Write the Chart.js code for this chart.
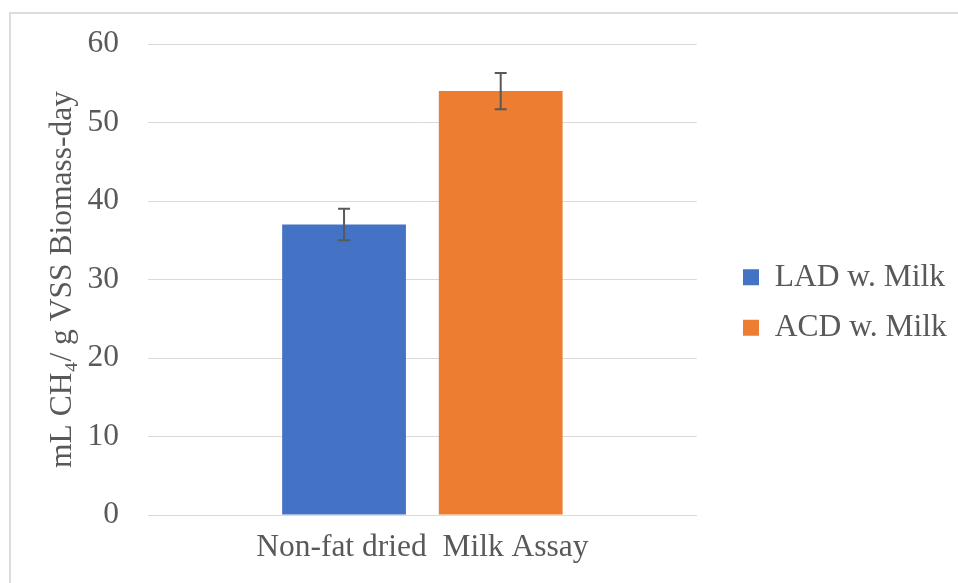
<!DOCTYPE html>
<html><head><meta charset="utf-8">
<script src="https://cdn.jsdelivr.net/npm/chart.js@4.4.0/dist/chart.umd.min.js"></script>
<style>
html,body{margin:0;padding:0;background:#fff;}
#wrap{position:relative;width:958px;height:583px;overflow:hidden;background:#fff;}
#frame{position:absolute;left:9px;top:12px;right:-10px;bottom:-10px;border-top:2px solid #dcdcdc;border-left:2px solid #dcdcdc;}
canvas{position:absolute;left:0;top:0;}
</style></head><body>
<div id="wrap"><div id="frame"></div><canvas id="c" width="958" height="583"></canvas></div>
<script>
const categories = ['Non-fat dried  Milk Assay'];
const seriesNames = ['LAD w. Milk', 'ACD w. Milk'];
const ladValues = [37];
const acdValues = [54];
const ladErrors = [2.0];
const acdErrors = [2.3];
const yTicks = [0, 10, 20, 30, 40, 50, 60];
const yTitle = 'mL CH\u2084/ g VSS Biomass-day';

const FONT = 'Liberation Serif, Times New Roman, serif';
const TXT = '#595959';
const FS = 31.5;

const errorBars = {
  id: 'errorBars',
  afterDatasetsDraw(chart) {
    const ctx = chart.ctx;
    const y = chart.scales.y;
    chart.data.datasets.forEach((ds, i) => {
      const meta = chart.getDatasetMeta(i);
      meta.data.forEach((bar, j) => {
        const v = ds.data[j], e = ds.errors[j];
        const top = y.getPixelForValue(v + e), bot = y.getPixelForValue(v - e);
        const x = bar.x, cap = 6;
        ctx.save();
        ctx.strokeStyle = '#595959';
        ctx.lineWidth = 2;
        ctx.beginPath();
        ctx.moveTo(x, top); ctx.lineTo(x, bot);
        ctx.moveTo(x - cap, top); ctx.lineTo(x + cap, top);
        ctx.moveTo(x - cap, bot); ctx.lineTo(x + cap, bot);
        ctx.stroke();
        ctx.restore();
      });
    });
  }
};

const legendShift = {
  id: 'legendShift',
  afterLayout(chart) {
    const lg = chart.legend;
    const w = lg.width, h = lg.height;
    lg.left = 724;
    lg.right = lg.left + w;
    lg.top = chart.chartArea.top + (chart.chartArea.bottom - chart.chartArea.top) / 2 - h / 2 + 23;
    lg.bottom = lg.top + h;
  }
};

new Chart(document.getElementById('c'), {
  type: 'bar',
  data: {
    labels: categories,
    datasets: [
      { label: seriesNames[0], data: ladValues, errors: ladErrors, backgroundColor: '#4472C4' },
      { label: seriesNames[1], data: acdValues, errors: acdErrors, backgroundColor: '#ED7D31' }
    ]
  },
  options: {
    responsive: false,
    animation: false,
    devicePixelRatio: 1,
    categoryPercentage: 0.571,
    barPercentage: 0.79,
    layout: { padding: { left: 0, right: 29, top: 44, bottom: 0 } },
    plugins: {
      tooltip: { enabled: false },
      legend: {
        position: 'right',
        align: 'center',
        labels: {
          boxWidth: 16, boxHeight: 16,
          padding: 19,
          color: TXT,
          font: { family: FONT, size: FS }
        }
      }
    },
    scales: {
      x: {
        grid: { display: false },
        border: { display: true, color: '#d9d9d9', width: 1 },
        ticks: { color: TXT, font: { family: FONT, size: FS }, padding: 6, maxRotation: 0 },
        afterFit(s) { s.height = 583 - 515; s.paddingLeft = 0; s.paddingRight = 0; }
      },
      y: {
        min: 0, max: 60,
        afterBuildTicks(s) { s.ticks = yTicks.map(v => ({ value: v })); },
        grid: { color: '#d9d9d9', lineWidth: 1, drawTicks: false },
        border: { display: false },
        ticks: { color: TXT, font: { family: FONT, size: FS }, padding: 29 },
        title: { display: true, text: yTitle, color: TXT, font: { family: FONT, size: FS }, padding: { top: 44, bottom: 0 } },
        afterFit(s) { s.width = 148; s.paddingTop = 0; s.paddingBottom = 0; }
      }
    }
  },
  plugins: [errorBars, legendShift]
});
</script>
</body></html>
